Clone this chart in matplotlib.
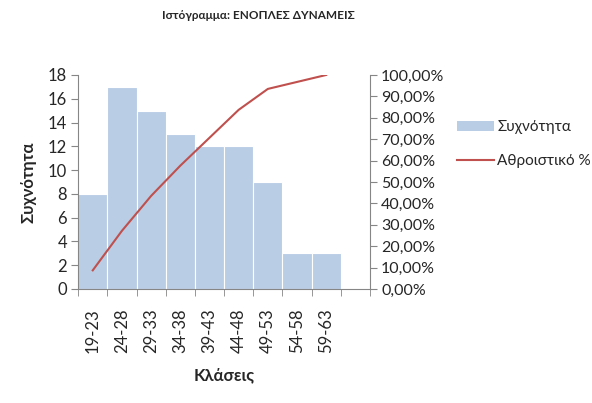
import matplotlib
matplotlib.use("Agg")
import matplotlib.pyplot as plt
from matplotlib.ticker import FixedLocator, FuncFormatter
from matplotlib.lines import Line2D
from matplotlib.patches import Patch

plt.rcParams['font.family'] = ['Lato', 'DejaVu Sans']

categories = ["19-23", "24-28", "29-33", "34-38", "39-43", "44-48", "49-53", "54-58", "59-63", ""]
frequency = [8, 17, 15, 13, 12, 12, 9, 3, 3, 0]
cumulative_pct = [8.70, 27.17, 43.48, 57.61, 70.65, 83.70, 93.48, 96.74, 100.0]

bar_color = "#B9CDE5"
line_color = "#C0504D"
axis_color = "#868686"
text_color = "#262626"

fig = plt.figure(figsize=(5.92, 4.03), dpi=100)
ax = fig.add_axes([0.132, 0.283, 0.493, 0.531])

x = list(range(len(categories)))
ax.bar(x, frequency, width=1.0, color=bar_color, edgecolor="white", linewidth=0.8, zorder=2)
ax.set_xlim(-0.5, len(categories) - 0.5)
ax.set_ylim(0, 18)
ax.set_yticks(range(0, 19, 2))
ax.set_xticks(x)
ax.set_xticklabels(categories, rotation=90, fontsize=12, color=text_color)
ax.xaxis.set_minor_locator(FixedLocator([i - 0.5 for i in range(len(categories) + 1)]))
ax.tick_params(axis='x', which='major', length=0, pad=14)
ax.tick_params(axis='x', which='minor', length=5, color=axis_color, direction='out')
ax.tick_params(axis='y', length=5, color=axis_color, labelsize=12, labelcolor=text_color, pad=3)
ax.spines['top'].set_visible(False)
ax.spines['right'].set_visible(False)
for s in ['left', 'bottom']:
    ax.spines[s].set_color(axis_color)
ax.set_ylabel("Συχνότητα", fontsize=12, fontweight='bold', color=text_color, labelpad=8)
ax.set_xlabel("Κλάσεις", fontsize=12, fontweight='bold', color=text_color, labelpad=10)

ax2 = ax.twinx()
ax2.plot(x[:len(cumulative_pct)], cumulative_pct, color=line_color, linewidth=1.5, zorder=3)
ax2.set_ylim(0, 100)
ax2.set_yticks(range(0, 101, 10))
ax2.yaxis.set_major_formatter(FuncFormatter(lambda v, p: f"{v:.2f}%".replace(".", ",")))
ax2.tick_params(axis='y', length=5, color=axis_color, labelsize=11.5, labelcolor=text_color, pad=3)
for s in ['top', 'left', 'bottom']:
    ax2.spines[s].set_visible(False)
ax2.spines['right'].set_color(axis_color)

fig.text(0.436, 0.962, "Ιστόγραμμα: ΕΝΟΠΛΕΣ ΔΥΝΑΜΕΙΣ", ha='center', va='center',
         fontsize=8.5, fontweight='bold', color=text_color)

handles = [Patch(facecolor=bar_color, edgecolor='none'),
           Line2D([0], [0], color=line_color, linewidth=1.5)]
fig.legend(handles, ["Συχνότητα", "Αθροιστικό %"], loc='upper left',
           bbox_to_anchor=(0.765, 0.713), frameon=False, fontsize=11,
           labelspacing=1.3, handlelength=2.4, handletextpad=0.2, labelcolor=text_color,
           borderaxespad=0, borderpad=0.3)

fig.savefig("out.png", dpi=100)
